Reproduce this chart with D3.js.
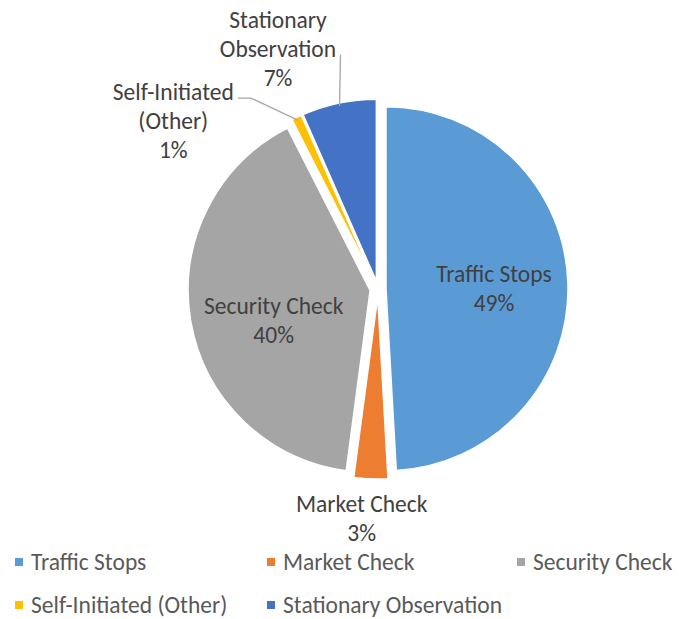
<!DOCTYPE html>
<html>
<head>
<meta charset="utf-8">
<script src="https://cdn.jsdelivr.net/npm/d3@7"></script>
<style>
  body { margin: 0; background: #fff; }
  svg text { font-family: Carlito, Lato, "Noto Sans", sans-serif; }
</style>
</head>
<body>
<div id="chart"></div>
<script>
const categories = ["Traffic Stops", "Market Check", "Security Check", "Self-Initiated (Other)", "Stationary Observation"];
const values = [49.1, 3.0, 40.4, 0.9, 6.6];
const pctLabels = ["49%", "3%", "40%", "1%", "7%"];
const labelLines = [["Traffic Stops"], ["Market Check"], ["Security Check"], ["Self-Initiated", "(Other)"], ["Stationary", "Observation"]];
const colors = ["#5B9BD5", "#ED7D31", "#A5A5A5", "#FFC000", "#4472C4"];

const width = 679, height = 619;
const cx = 378, cy = 289, radius = 182, explode = 8;
const fontSize = 23.5, lineH = 29;

const data = categories.map((c, i) => ({ name: c, value: values[i], pct: pctLabels[i], lines: labelLines[i], color: colors[i] }));

const svg = d3.select("#chart").append("svg")
    .attr("width", width)
    .attr("height", height);

const pie = d3.pie().sort(null).value(d => d.value);
const arcs = pie(data);
const arc = d3.arc().innerRadius(0).outerRadius(radius);

const mid = a => (a.startAngle + a.endAngle) / 2;
const shift = a => [Math.sin(mid(a)) * explode, -Math.cos(mid(a)) * explode];

const g = svg.append("g").attr("transform", `translate(${cx},${cy})`);

g.selectAll(".slice")
    .data(arcs)
    .enter()
    .append("path")
    .attr("class", "slice")
    .attr("d", arc)
    .attr("transform", d => `translate(${shift(d)})`)
    .attr("fill", d => d.data.color)
    .attr("stroke", "#fff")
    .attr("stroke-width", 1.5);

// label placement: polar distance from pie centre + angle nudge (deg) off the slice middle
const labelLayout = {
    "Traffic Stops": { r: 116, da: 1.5 },
    "Market Check": { r: 230, da: 1.9 },
    "Security Check": { r: 109, da: -7.1 },
    "Self-Initiated (Other)": { r: 265, da: -25.2, leader: "elbow" },
    "Stationary Observation": { r: 260.5, da: -10.7, leader: "drop" }
};

function labelPos(d) {
    const o = labelLayout[d.data.name];
    const a = mid(d) + o.da * Math.PI / 180;
    return [Math.sin(a) * o.r, -Math.cos(a) * o.r];
}

const labels = g.selectAll(".lbl")
    .data(arcs)
    .enter()
    .append("text")
    .attr("class", "lbl")
    .attr("text-anchor", "middle")
    .style("font-size", fontSize + "px")
    .style("fill", "#404040");

labels.each(function (d) {
    const p = labelPos(d);
    const lines = d.data.lines.concat([d.data.pct]);
    const top = p[1] - (lines.length - 1) * lineH / 2;
    d3.select(this).selectAll("tspan")
        .data(lines)
        .enter()
        .append("tspan")
        .attr("x", p[0])
        .attr("y", (t, i) => top + i * lineH)
        .attr("dy", "0.35em")
        .text(t => t);
});

// leader lines to the small slices
labels.each(function (d) {
    const o = labelLayout[d.data.name];
    if (!o.leader) return;
    const s = shift(d), a = mid(d);
    const end = [s[0] + Math.sin(a) * (radius - 3), s[1] - Math.cos(a) * (radius - 3)];
    const first = d3.select(this).select("tspan").node().getBBox();
    const spans = d3.select(this).selectAll("tspan").nodes();
    let pts;
    if (o.leader === "elbow") {
        const y0 = first.y + first.height * 0.72;
        const x0 = first.x + first.width + 4;
        pts = [[x0, y0], [x0 + 13, y0], end];
    } else {
        const b = spans[1].getBBox();
        pts = [[end[0] + 1, b.y + b.height * 0.72], end];
    }
    g.append("path")
        .attr("d", d3.line()(pts))
        .attr("fill", "none")
        .attr("stroke", "#A6A6A6")
        .attr("stroke-width", 1.3);
});

// legend
const legendCols = [15, 267, 517];
const legendRows = [562, 605];
const legend = svg.selectAll(".legend")
    .data(data)
    .enter()
    .append("g")
    .attr("class", "legend")
    .attr("transform", (d, i) => `translate(${legendCols[i % 3]},${legendRows[Math.floor(i / 3)]})`);

legend.append("rect")
    .attr("x", 0)
    .attr("y", -4)
    .attr("width", 8)
    .attr("height", 8)
    .attr("fill", d => d.color);

legend.append("text")
    .attr("x", 16)
    .attr("y", 0)
    .attr("dy", "0.35em")
    .style("font-size", fontSize + "px")
    .style("fill", "#595959")
    .text(d => d.name);
</script>
</body>
</html>
